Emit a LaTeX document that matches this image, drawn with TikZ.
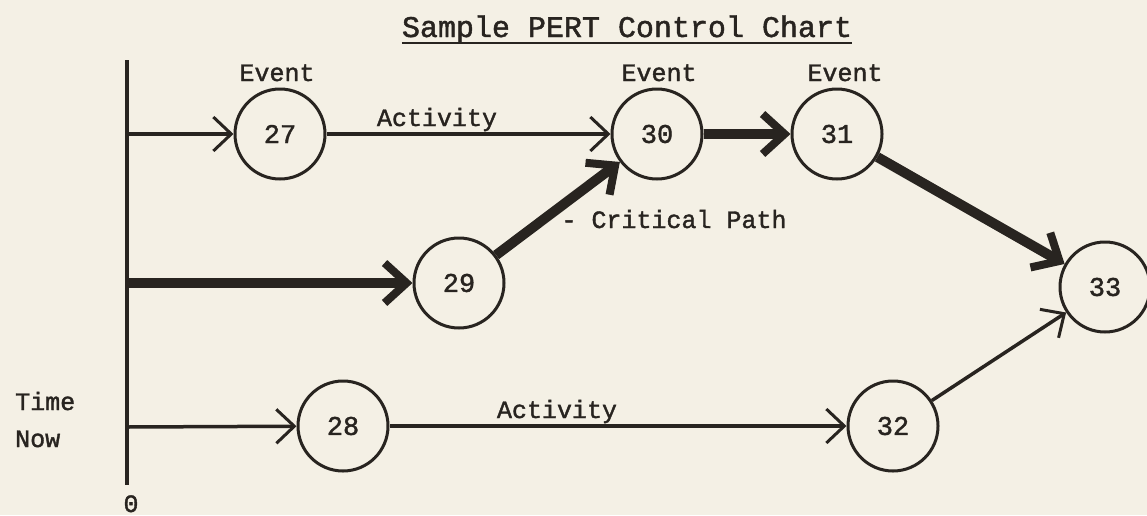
\documentclass[tikz,border=0pt]{standalone}
\usepackage{fontspec}
\setmainfont{Liberation Mono}[FakeBold=1.5]
\usetikzlibrary{arrows.meta}
\definecolor{paper}{RGB}{244,240,229}
\definecolor{ink}{RGB}{40,36,32}
\newcommand{\lblfnt}{\fontsize{25}{28}\selectfont}
\newcommand{\ttlfnt}{\fontsize{30}{34}\selectfont}
\newcommand{\numfnt}{\fontsize{27}{30}\selectfont}
\begin{document}
\begin{tikzpicture}[x=1pt,y=-1pt,
  event/.style={circle,draw=ink,line width=3pt,minimum size=90pt,inner sep=0pt,font=\numfnt,text=ink},
  thinarrow/.style={draw=ink,line width=3.5pt,-{Straight Barb[length=18pt,width=34pt,line width=3pt]}},
  thickarrow/.style={draw=ink,line width=10pt,-{Straight Barb[length=22pt,width=40pt,line width=8pt]}},
  lbl/.style={font=\lblfnt,text=ink,anchor=base,inner sep=0pt},
  axis/.style={draw=ink,line width=4pt}]
\fill[paper] (0,0) rectangle (1147,515);
\useasboundingbox (0,0) rectangle (1147,515);

% title
\node[lbl,font=\ttlfnt] (title) at (627,37) {Sample PERT Control Chart};
\draw[ink,line width=2.5pt] ([yshift=-6pt]title.base west) -- ([yshift=-6pt]title.base east);

% time axis
\coordinate (top) at (127,60);
\coordinate (bot) at (127,485);
\draw[axis] (top) -- (bot);
\coordinate (s27) at (127,134);
\coordinate (s29) at (127,283);
\coordinate (s28) at (127,427);

% events
\node[event] (n27) at (280,134) {27};
\node[event] (n30) at (657,134) {30};
\node[event] (n31) at (837,134) {31};
\node[event] (n29) at (459,283) {29};
\node[event] (n33) at (1105,287) {33};
\node[event] (n28) at (343,426) {28};
\node[event] (n32) at (893,426) {32};

% activities
\draw[thinarrow] (s27) -- (n27);
\draw[thinarrow] (n27) -- (n30);
\draw[thickarrow] (s29) -- (n29);
\draw[thickarrow] (n29) -- (n30);
\draw[thickarrow] (n30) -- (n31);
\draw[thickarrow] (n31) -- (n33);
\draw[thinarrow] (s28) -- (n28);
\draw[thinarrow] (n28) -- (n32);
\draw[thinarrow] (n32) -- (n33);

% labels
\node[lbl] (ev27) at (277,81) {Event};
\node[lbl] (ev30) at (659,81) {Event};
\node[lbl] (ev31) at (845,81) {Event};
\node[lbl] (act1) at (437,126) {Activity};
\node[lbl] (act2) at (557,418) {Activity};
\node[lbl] (crit) at (674,228) {- Critical Path};
\node[lbl,anchor=base west] (time) at (15,410) {Time};
\node[lbl,anchor=base west] (now) at (15,447) {Now};
\node[lbl] (zero) at (131,512) {0};
\end{tikzpicture}
\end{document}
